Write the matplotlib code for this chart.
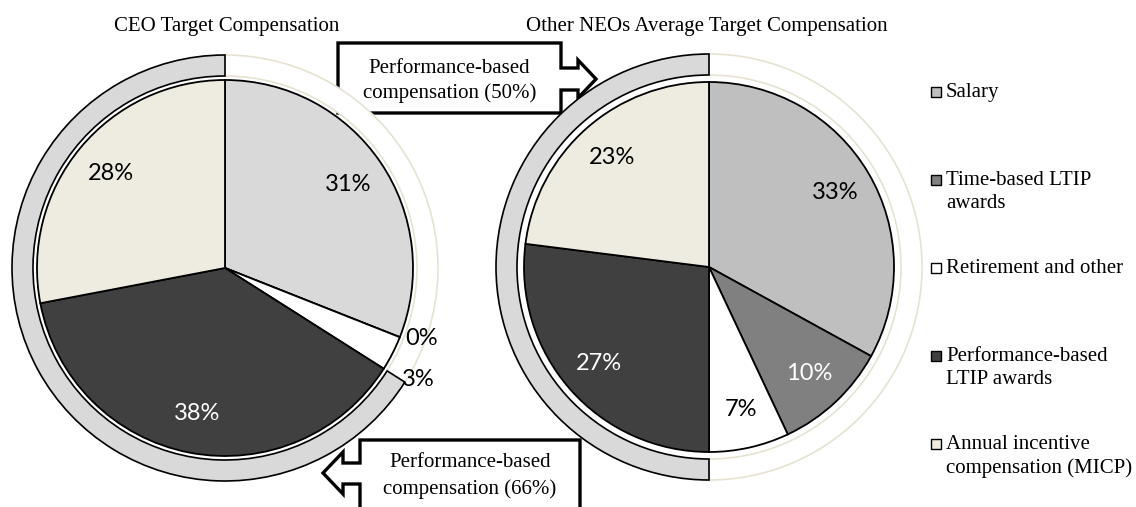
import matplotlib
matplotlib.use("Agg")
import matplotlib.pyplot as plt
from matplotlib.patches import Polygon
import numpy as np

# data
categories = ["Salary", "Time-based LTIP\nawards", "Retirement and other",
              "Performance-based\nLTIP awards", "Annual incentive\ncompensation (MICP)"]
ceo_share = [31, 0, 3, 38, 28]
neo_share = [33, 10, 7, 27, 23]
# outer ring: fixed pay vs performance-based pay
ceo_ring = [34, 66]
neo_ring = [50, 50]
ceo_title = "CEO Target Compensation"
neo_title = "Other NEOs Average Target Compensation"
ceo_callout = "Performance-based\ncompensation (66%)"
neo_callout = "Performance-based\ncompensation (50%)"

ceo_colors = ["#d9d9d9", "#808080", "#ffffff", "#404040", "#eeece1"]
neo_colors = ["#bfbfbf", "#808080", "#ffffff", "#404040", "#eeece1"]
text_colors = ["black", "white", "black", "white", "black"]

SERIF = "Liberation Serif"
SANS = "Lato"

W, H = 1136, 507
fig = plt.figure(figsize=(W / 100, H / 100), dpi=100)
ax = fig.add_axes([0, 0, 1, 1])


def draw_callout(pts):
    ax.add_patch(Polygon(pts, closed=True, facecolor="white", edgecolor="black",
                         lw=2.4, joinstyle="miter", zorder=1))


# callout arrows (pixel coordinates, y down)
draw_callout([(338, 43), (561, 43), (561, 68), (578, 68), (578, 60), (596, 79),
              (578, 98), (578, 90), (561, 90), (561, 113), (338, 113)])
draw_callout([(360, 440), (580, 440), (580, 530), (360, 530), (360, 484), (343, 484),
              (343, 494), (323, 473), (343, 452), (343, 463), (360, 463)])
ax.text(449.5, 81, neo_callout, ha="center", va="center", family=SERIF,
        fontsize=15, linespacing=1.3, zorder=2)
ax.text(470, 476, ceo_callout, ha="center", va="center", family=SERIF,
        fontsize=15, linespacing=1.45, zorder=2)


def draw_donut(center, r_pie, r_ring, shares, colors, ring):
    # outer ring
    ring_w, _ = ax.pie(ring, radius=r_ring, center=center, startangle=-90,
                       counterclock=True, colors=["white", "#d9d9d9"],
                       wedgeprops=dict(width=21, lw=1.2))
    ring_w[0].set_edgecolor("#e6e2d2")
    ring_w[1].set_edgecolor("black")
    ring_w[0].set_zorder(3)
    ring_w[1].set_zorder(4)
    # inner pie
    wedges, _ = ax.pie(shares, radius=r_pie, center=center, startangle=-90,
                       counterclock=True, colors=colors,
                       wedgeprops=dict(edgecolor="black", lw=1.3))
    for w in wedges:
        w.set_zorder(5)
    for w, val, tc in zip(wedges, shares, text_colors):
        mid = (w.theta1 + w.theta2) / 2
        if val == 0:
            d, tc, mid = 1.11, "black", mid - 2
        elif val < 5:
            d, tc, mid = 1.19, "black", mid + 3
        else:
            d = 0.79
        mid = np.deg2rad(mid)
        x = center[0] + d * r_pie * np.cos(mid)
        y = center[1] + d * r_pie * np.sin(mid)
        ax.text(x, y, f"{val}%", ha="center", va="center", color=tc,
                family=SANS, fontsize=17, zorder=6)


draw_donut((225, 268), 188, 213, ceo_share, ceo_colors, ceo_ring)
draw_donut((709, 267), 185, 213, neo_share, neo_colors, neo_ring)

ax.text(227, 26, ceo_title, ha="center", va="center", family=SERIF, fontsize=15)
ax.text(707, 26, neo_title, ha="center", va="center", family=SERIF, fontsize=15)

# legend
for i, (name, col) in enumerate(zip(categories, neo_colors)):
    y0 = 92 + i * 88
    ax.add_patch(plt.Rectangle((931, y0 - 5), 10, 10, facecolor=col,
                               edgecolor="black", lw=1.0))
    ax.text(946, y0 - 9, name, ha="left", va="top", family=SERIF,
            fontsize=15, linespacing=1.3)

ax.set_xlim(0, W)
ax.set_ylim(H, 0)
ax.set_aspect("equal")
ax.axis("off")

fig.savefig("out.png", dpi=100)
